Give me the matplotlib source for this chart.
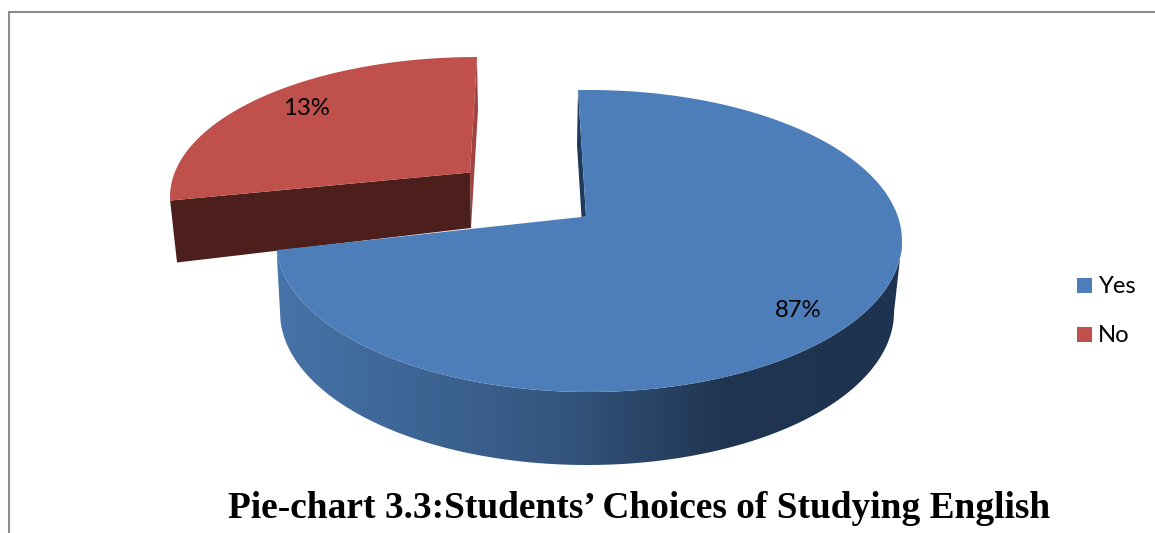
import numpy as np
import matplotlib
matplotlib.use("Agg")
import matplotlib.pyplot as plt
from matplotlib.colors import LinearSegmentedColormap
from matplotlib.patches import Polygon, Rectangle

# Data
categories = ["Yes", "No"]
shares = [87, 13]
title = "Pie-chart 3.3:Students\u2019 Choices of Studying English"

# Styling and view geometry (pixels of the 1155x533 image)
W, H = 1155, 533
BLUE, RED = "#4e7eba", "#bf504c"
DARK_RED, SIDE_RED, DARK_BLUE = "#4c1f1d", "#a04441", "#1f3a5a"
FRAME = "#8c8c8c"
PERSPECTIVE = 2.37  # foreshortening of angles on the tilted disc

TEXT_FONT = ["Lato", "DejaVu Sans"]
LABEL_SIZE = 17.2


def view_angle(theta):
    """Clockwise true angle (deg from back) -> ellipse parameter, perspective warp."""
    theta = np.asarray(theta, dtype=float)
    half = np.radians(theta) / 2
    warped = 2 * np.arctan2(PERSPECTIVE * np.sin(half), np.cos(half))
    return np.degrees(warped)


def on_ellipse(p, c, a, b):
    r = np.radians(p)
    return np.column_stack([c[0] + a * np.sin(r), c[1] - b * np.cos(r)])


fig = plt.figure(figsize=(W / 100, H / 100), dpi=100)
ax = fig.add_axes([0, 0, 1, 1])
ax.set_xlim(0, W)
ax.set_ylim(H, 0)
ax.axis("off")

# Chart frame: only left and top edges fall inside the crop
ax.plot([8.5, 8.5, W], [H, 11.5, 11.5], color=FRAME, lw=1.5, solid_joinstyle="miter")

# Slice extents from the shares
edges = np.cumsum([0] + shares) / sum(shares) * 360
p_edges = view_angle(edges)

# ---- "No" slice, exploded towards the back left ----
no_c, no_a, no_b = (477, 197), 307, 140
no_apex = np.array([[470, 172.5]])
p = np.linspace(p_edges[1], p_edges[2], 200)
no_arc = on_ellipse(p, no_c, no_a, no_b)
ax.add_patch(Polygon([(477, 57), (478, 110), (471, 228), (470, 172.5)], closed=True,
                     fc=SIDE_RED, ec="none", zorder=2))
ax.add_patch(Polygon([no_arc[0], (177, 262.5), (471, 228), no_apex[0]], closed=True,
                     fc=DARK_RED, ec="none", zorder=2))
ax.add_patch(Polygon(np.vstack([no_apex, no_arc]), closed=True, fc=RED, ec="none", zorder=3))

# ---- "Yes" slice ----
yes_c, yes_a, yes_b = (589, 241), 313, 151
low_c, low_a, low_b = (587, 312), 307, 153
rotation = -2
p_top = np.linspace(p_edges[0], p_edges[1], 400) + rotation

# inner cut wall
ax.add_patch(Polygon([(578, 90), (577, 145), (581.5, 217), (586, 216.5)], closed=True,
                     fc=DARK_BLUE, ec="none", zorder=4))

# outer wall: a horizontal gradient clipped to the wall outline
wall_cmap = LinearSegmentedColormap.from_list(
    "wall", [(0.0, "#4673a8"), (0.45, "#34567f"), (0.72, "#1f3550"), (1.0, "#1e3350")])
p_wall = np.linspace(90, p_top[-1], 360)
upper = on_ellipse(p_wall, yes_c, yes_a, yes_b)
lower = on_ellipse(p_wall, low_c, low_a, low_b)
x0, x1 = upper[:, 0].min(), upper[:, 0].max()
outline = Polygon(np.vstack([upper, lower[::-1]]), closed=True, fc="none", ec="none",
                  transform=ax.transData)
ax.add_patch(outline)
gradient = np.linspace(0, 1, 512).reshape(1, -1)
wall = ax.imshow(gradient, cmap=wall_cmap, extent=(x0, x1, lower[:, 1].max() + 2, upper[:, 1].min() - 2),
                 aspect="auto", zorder=4, interpolation="bilinear")
wall.set_clip_path(outline)
ax.set_xlim(0, W)
ax.set_ylim(H, 0)

yes_arc = on_ellipse(p_top, yes_c, yes_a, yes_b)
ax.add_patch(Polygon(np.vstack([[(586, 216.5)], yes_arc]), closed=True, fc=BLUE, ec="none", zorder=5))

# Data labels
label_pos = [(798.5, 310.5), (306, 108.5)]
for share, (x, y) in zip(shares, label_pos):
    ax.text(x, y, f"{share}%", ha="center", va="center", fontsize=LABEL_SIZE,
            family=TEXT_FONT, color="black", zorder=6)

# Legend
marker_y = [285, 334]
text_offset = 1.5
for name, col, y in zip(categories, [BLUE, RED], marker_y):
    ax.add_patch(Rectangle((1077, y - 7.5), 15, 15, fc=col, ec="none", zorder=6))
    ax.text(1098, y + text_offset, name, ha="left", va="center", fontsize=LABEL_SIZE,
            family=TEXT_FONT, color="black", zorder=6)

# Title
ax.text(639, 518, title, ha="center", va="baseline", fontsize=26.9, fontweight="bold",
        family="Liberation Serif", color="black", zorder=6)

fig.savefig("out.png", dpi=100)
